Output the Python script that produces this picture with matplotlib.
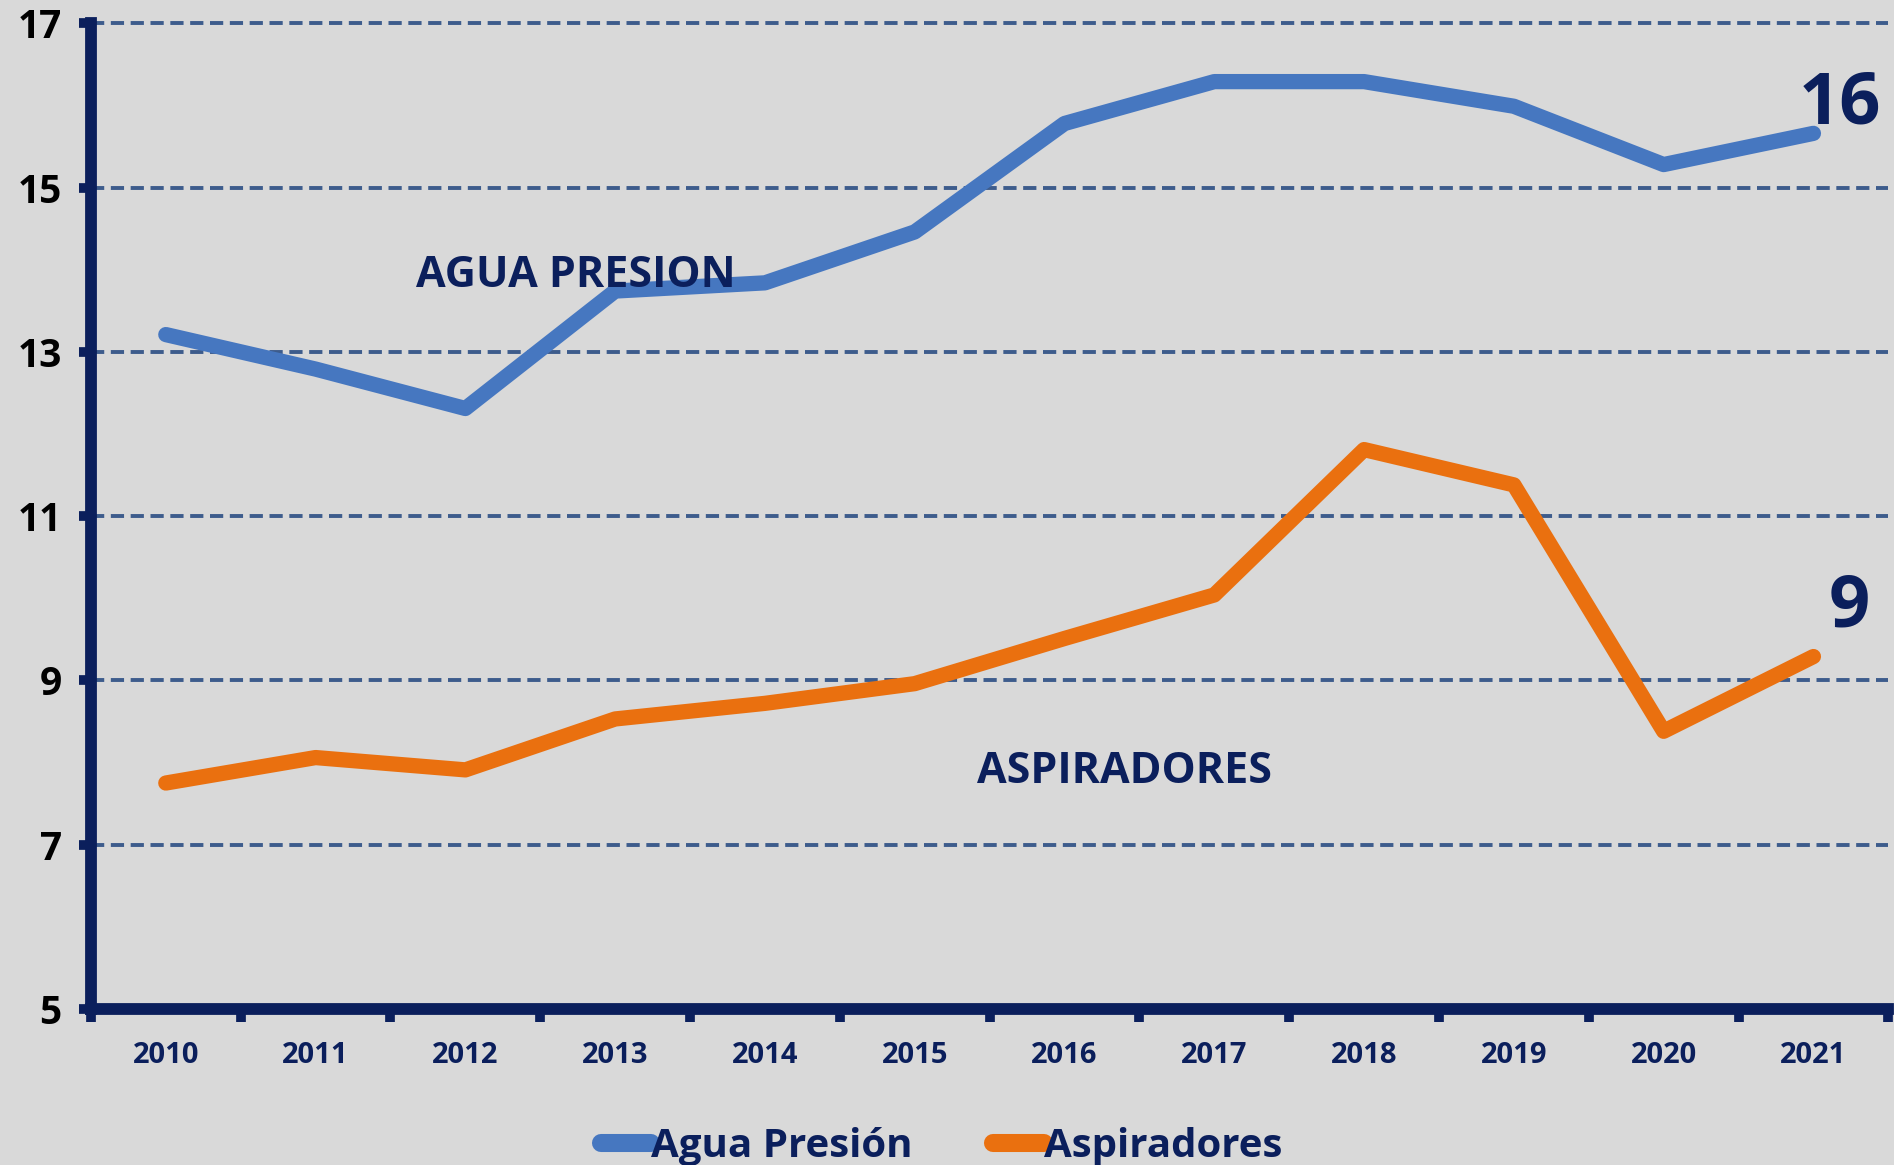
import matplotlib
matplotlib.use("Agg")
from matplotlib import pyplot as plt
from matplotlib.ticker import FixedLocator

years = ["2010", "2011", "2012", "2013", "2014", "2015",
         "2016", "2017", "2018", "2019", "2020", "2021"]
agua = [13.21, 12.79, 12.31, 13.74, 13.84, 14.46, 15.78, 16.29, 16.29, 15.99, 15.28, 15.66]
aspiradores = [7.75, 8.06, 7.91, 8.53, 8.72, 8.96, 9.51, 10.04, 11.81, 11.38, 8.38, 9.29]
yticks = [5, 7, 9, 11, 13, 15, 17]

bg = "#d9d9d9"
navy = "#0b1f5c"
blue = "#4677c0"
orange = "#ea700f"
grid_col = "#3d5c8c"

plt.rcParams["font.family"] = ["Open Sans", "DejaVu Sans"]
plt.rcParams["font.weight"] = "bold"

fig = plt.figure(figsize=(18.94, 11.65), dpi=100, facecolor=bg)
ax = fig.add_axes([0.048, 0.134, 0.949, 0.846], facecolor=bg)

x = list(range(len(years)))
ax.plot(x, agua, color=blue, lw=11, solid_capstyle="round", solid_joinstyle="round",
        label="Agua Presión", zorder=3)
ax.plot(x, aspiradores, color=orange, lw=11, solid_capstyle="round", solid_joinstyle="round",
        label="Aspiradores", zorder=3)

ax.set_xlim(-0.5, len(years) - 0.5)
ax.set_ylim(5, 17)
ax.set_yticks(yticks)
ax.set_xticks(x)
ax.set_xticklabels(years)
ax.xaxis.set_minor_locator(FixedLocator([i - 0.5 for i in range(len(years) + 1)]))

# dashed gridlines
for v in yticks[1:]:
    ax.axhline(v, color=grid_col, lw=2.8, dashes=(3.4, 1.7), zorder=1, clip_on=False)

for s in ["top", "right"]:
    ax.spines[s].set_visible(False)
for s in ["left", "bottom"]:
    ax.spines[s].set_color(navy)
    ax.spines[s].set_linewidth(8.5)
    ax.spines[s].set_zorder(4)

ax.tick_params(axis="x", which="major", length=0, pad=23, labelsize=21, labelcolor=navy)
ax.tick_params(axis="x", which="minor", length=9, width=7, color=navy, direction="out")
ax.tick_params(axis="y", length=9, width=7, color=navy, pad=12, labelsize=28, labelcolor="black")
for t in ax.get_xticklabels() + ax.get_yticklabels():
    t.set_fontweight("bold")

# series annotations
ax.text(2.74, 13.79, "AGUA PRESION", color=navy, fontsize=31, fontweight="bold",
        ha="center", va="baseline", zorder=5)
ax.text(6.40, 7.75, "ASPIRADORES", color=navy, fontsize=31, fontweight="bold",
        ha="center", va="baseline")
ax.text(10.9, 15.78, "16", color=navy, fontsize=52, fontweight="bold", ha="left", va="baseline")
ax.text(11.1, 9.65, "9", color=navy, fontsize=52, fontweight="bold", ha="left", va="baseline")

leg = fig.legend(loc="lower center", bbox_to_anchor=(0.497, -0.032), ncol=2, frameon=False,
                 handlelength=1.25, handletextpad=0.0, columnspacing=2.0,
                 prop={"size": 29, "weight": "bold"})
for t in leg.get_texts():
    t.set_color(navy)
for h in leg.legend_handles:
    h.set_linewidth(13)

fig.savefig("out.png", dpi=100, facecolor=bg)
